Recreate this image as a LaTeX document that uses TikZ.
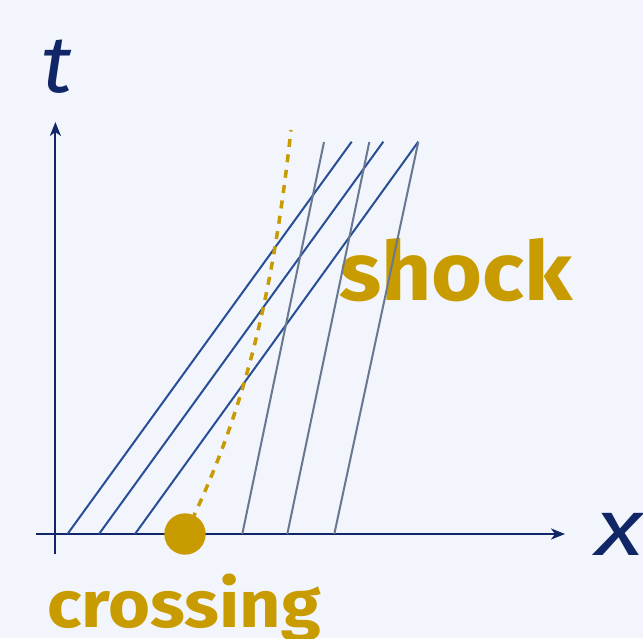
\documentclass[tikz,border=0pt]{standalone}
\usepackage{fontspec}
\newfontfamily\labelfont{Fira Sans}
\usetikzlibrary{arrows.meta}
\definecolor{bgcol}{RGB}{242,245,252}
\definecolor{axiscol}{RGB}{16,38,102}
\definecolor{charblue}{RGB}{40,78,150}
\definecolor{chargray}{RGB}{105,120,145}
\definecolor{gold}{RGB}{200,155,0}
\begin{document}
\begin{tikzpicture}[x=1pt,y=-1pt,
  axisline/.style={draw=axiscol,line width=2pt,-{Stealth[length=14pt,width=11pt,inset=4pt]}},
  charb/.style={draw=charblue,line width=2pt},
  charg/.style={draw=chargray,line width=2pt},
  shockpath/.style={draw=gold,line width=3.5pt,dash pattern=on 8pt off 7.5pt},
  goldtext/.style={text=gold,font=\labelfont\bfseries,inner sep=0pt},
  axistext/.style={text=axiscol,font=\labelfont\itshape\fontsize{80}{80}\selectfont,inner sep=0pt}]
\fill[bgcol] (0,0) rectangle (643,638);
\useasboundingbox (0,0) rectangle (643,638);
% texts (below lines)
\node[goldtext,font=\labelfont\bfseries\fontsize{82}{82}\selectfont,anchor=base west] (shock) at (339,300) {\scalebox{1.065}[1]{shock}};
\node[goldtext,font=\labelfont\bfseries\fontsize{66}{66}\selectfont,anchor=base west] (crossing) at (47,627) {\scalebox{1.09}[1]{crossing}};
\node[axistext,anchor=base west] (tlab) at (41,92) {\scalebox{1.08}[1]{t}};
\node[axistext,anchor=base west] (xlab) at (595,555) {\scalebox{1.25}[1]{x}};
% axes
\coordinate (xs) at (36,534);
\coordinate (xe) at (565,534);
\coordinate (ys) at (55.4,553.5);
\coordinate (ye) at (55.4,122);
\draw[axisline] (xs) -- (xe);
\draw[axisline] (ys) -- (ye);
% characteristics
\coordinate (b1) at (67.5,534); \coordinate (t1) at (351.7,141.7);
\coordinate (b2) at (99,534);   \coordinate (t2) at (383.3,141.7);
\coordinate (b3) at (135,534);  \coordinate (t3) at (418.3,141.7);
\coordinate (g1) at (242.3,534); \coordinate (u1) at (324,142);
\coordinate (g2) at (287.3,534); \coordinate (u2) at (369.3,142);
\coordinate (g3) at (334.3,534); \coordinate (u3) at (418.3,142);
\draw[charb] (b1) -- (t1);
\draw[charb] (b2) -- (t2);
\draw[charb] (b3) -- (t3);
\draw[charg] (g1) -- (u1);
\draw[charg] (g2) -- (u2);
\draw[charg] (g3) -- (u3);
% shock curve
\coordinate (dotc) at (185,534);
\coordinate (shocktop) at (291,130);
\draw[shockpath] (dotc) .. controls (252.5,399) and (276,265) .. (shocktop);
\node[circle,fill=gold,minimum size=41.4pt,inner sep=0pt] (dot) at (dotc) {};
\end{tikzpicture}
\end{document}
